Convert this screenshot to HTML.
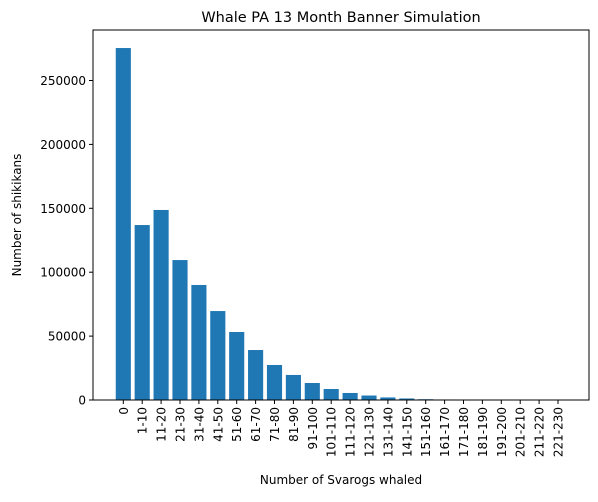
<!DOCTYPE html>
<html><head><meta charset="utf-8"><style>
body{margin:0;background:#fff;font-family:"Liberation Sans","DejaVu Sans",sans-serif;}
</style></head><body>
<svg id="chart" width="598" height="497" xmlns="http://www.w3.org/2000/svg" font-family="DejaVu Sans, Liberation Sans, sans-serif">
<rect width="598" height="497" fill="#fff"/>
<text x="341" y="22" font-size="14.5" text-anchor="middle">Whale PA 13 Month Banner Simulation</text>
<g id="bars"></g>
<g id="xticks"></g>
<g id="yticks"></g>
<rect x="93" y="30" width="496" height="370" fill="none" stroke="#000" stroke-width="1"/>
<text x="341" y="484" font-size="12" text-anchor="middle">Number of Svarogs whaled</text>
<text transform="translate(21,215) rotate(-90)" font-size="12" text-anchor="middle">Number of shikikans</text>
</svg>
<script>
const categories=["0","1-10","11-20","21-30","31-40","41-50","51-60","61-70","71-80","81-90","91-100","101-110","111-120","121-130","131-140","141-150","151-160","161-170","171-180","181-190","191-200","201-210","211-220","221-230"];
const counts=[275400,136900,148700,109500,90000,69600,53200,39100,27400,19600,13300,8600,5500,3500,2000,1200,600,400,300,250,0,0,0,0];
const yTicks=[0,50000,100000,150000,200000,250000];
const NS="http://www.w3.org/2000/svg";
const x0=123.3, step=(558-123.3)/23, baseY=400, pxPer=63.9/50000;
function xs(i){return x0+i*step;}
function ys(v){return baseY-v*pxPer;}
const bars=document.getElementById('bars'),xt=document.getElementById('xticks'),yt=document.getElementById('yticks');
categories.forEach((c,i)=>{
 const r=document.createElementNS(NS,'rect');
 const h=baseY-ys(counts[i]);
 r.setAttribute('x',xs(i)-step*0.4);r.setAttribute('y',ys(counts[i]));
 r.setAttribute('width',step*0.8);r.setAttribute('height',h);r.setAttribute('fill','#1f77b4');
 
 
 bars.appendChild(r);
 const l=document.createElementNS(NS,'line');
 l.setAttribute('x1',xs(i));l.setAttribute('x2',xs(i));l.setAttribute('y1',400);l.setAttribute('y2',404);l.setAttribute('stroke','#000');
 
 
 xt.appendChild(l);
 const t=document.createElementNS(NS,'text');
 t.setAttribute('transform','translate('+(xs(i)+4.5)+',407) rotate(-90)');
 t.setAttribute('font-size','12');t.setAttribute('text-anchor','end');t.textContent=c;
 
 
 xt.appendChild(t);
});
yTicks.forEach(v=>{
 const l=document.createElementNS(NS,'line');
 l.setAttribute('x1',89);l.setAttribute('x2',93);l.setAttribute('y1',ys(v));l.setAttribute('y2',ys(v));l.setAttribute('stroke','#000');
 
 
 yt.appendChild(l);
 const t=document.createElementNS(NS,'text');
 t.setAttribute('x',86);t.setAttribute('y',ys(v)+4.5);t.setAttribute('font-size','12');t.setAttribute('text-anchor','end');t.textContent=v;
 
 
 yt.appendChild(t);
});
</script>
</body></html>
